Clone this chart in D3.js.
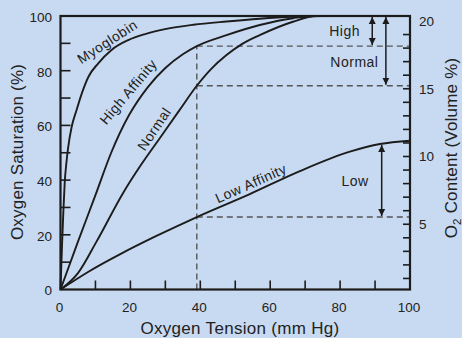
<!DOCTYPE html>
<html><head><meta charset="utf-8">
<script src="https://cdn.jsdelivr.net/npm/d3@7"></script>
<style>
html,body{margin:0;padding:0;background:#c8daf1;}
svg{display:block;font-family:"Liberation Sans",Arial,Helvetica,sans-serif;}
</style></head>
<body>
<svg id="chart" width="462" height="338"></svg>
<script>
// ---- data ----
const myoglobinPO2 = [0, 0.4, 0.8, 1.2, 1.7, 2.2, 3.2, 4.6, 6.1, 8, 10.8, 14.6, 19.4, 24.2, 29.9, 38, 47.5, 57, 66.5, 75, 100];
const myoglobinSat = [0, 15, 28, 39, 46.5, 52, 59.5, 65.6, 71.7, 77.8, 82.7, 87.6, 91.2, 93.4, 95.2, 96.8, 98, 99, 99.7, 100, 100];
const highPO2 = [0, 5, 10, 14.5, 19.5, 25, 30, 35, 39, 47.5, 57, 66.5, 72, 100];
const highSat = [0, 17.5, 34.5, 50, 63.5, 74, 81, 86, 89, 93, 96.7, 99.2, 100, 100];
const normalPO2 = [0, 5, 10.3, 18, 23, 28.5, 34, 39, 43, 47.5, 52, 57, 66.5, 73, 100];
const normalSat = [0, 6, 17.5, 35.5, 45.5, 55.5, 65.5, 74.5, 80.5, 85.7, 89.8, 93, 97.9, 100, 100];
const lowPO2 = [0, 8, 17.5, 27, 39, 54, 68.5, 82.8, 91.4, 100];
const lowSat = [0, 6.5, 13.2, 19.3, 26.5, 34.8, 43.3, 50.4, 53.2, 54.4];

const xTicks = [0, 20, 40, 60, 80, 100];
const xMinorTicks = [10, 20, 30, 40, 50, 60, 70, 80, 90];
const yTicks = [0, 20, 40, 60, 80, 100];
const yMinorTicks = [10, 20, 30, 40, 50, 60, 70, 80, 90];
const y2Ticks = [5, 10, 15, 20];
const y2MinorTicks = [1, 2, 3, 4, 5, 6, 7, 8, 9, 10, 11, 12, 13, 14, 15, 16, 17, 18, 19];

const refPO2 = 39;                       // venous tension marker
const refHighSat = 89, refNormalSat = 74.5, refLowSat = 26.5;

const curveLabels = [
  {text: "Myoglobin", po2: 13.4, sat: 90.6, angle: -33},
  {text: "High Affinity", po2: 19.4, sat: 72.3, angle: -50},
  {text: "Normal", po2: 26.8, sat: 58.7, angle: -56},
  {text: "Low Affinity", po2: 54.5, sat: 38.8, angle: -24}
];
const rangeLabels = [
  {text: "High", po2: 81.3, sat: 94.3},
  {text: "Normal", po2: 84.1, sat: 83.3},
  {text: "Low", po2: 84.3, sat: 39.7}
];
const arrows = [
  {po2: 89.2, from: 100, to: refHighSat},
  {po2: 93.1, from: 100, to: refNormalSat},
  {po2: 91.9, from: 53.2, to: refLowSat}
];

// ---- scales ----
const x = d3.scaleLinear().domain([0, 100]).range([60.5, 410]);
const y = d3.scaleLinear().domain([0, 100]).range([289.5, 16]);
const y2 = d3.scaleLinear().domain([0, 20]).range([292, 21]);

const svg = d3.select("#chart");
const ink = "#1c1c1c";

svg.append("defs").append("marker")
  .attr("id", "ah").attr("viewBox", "0 0 10 10").attr("refX", 10).attr("refY", 5)
  .attr("markerWidth", 7).attr("markerHeight", 9).attr("markerUnits", "userSpaceOnUse")
  .attr("orient", "auto-start-reverse")
  .append("path").attr("d", "M0,0L10,5L0,10Z").attr("fill", ink);

// dashed reference lines
const dash = svg.append("g").attr("stroke", "#555").attr("stroke-width", 1.4)
  .attr("stroke-dasharray", "6,4").attr("fill", "none");
dash.append("line").attr("x1", x(refPO2)).attr("x2", x(refPO2)).attr("y1", y(0)).attr("y2", y(refHighSat));
[refHighSat, refNormalSat, refLowSat].forEach(s => {
  dash.append("line").attr("x1", x(refPO2)).attr("x2", x(100)).attr("y1", y(s)).attr("y2", y(s));
});

// curves
const line = d3.line().x(d => x(d[0])).y(d => y(d[1])).curve(d3.curveMonotoneX);
const series = [
  [myoglobinPO2, myoglobinSat],
  [highPO2, highSat],
  [normalPO2, normalSat],
  [lowPO2, lowSat]
];
svg.append("g").selectAll("path").data(series).join("path")
  .attr("d", s => line(s[0].map((v, i) => [v, s[1][i]])))
  .attr("fill", "none").attr("stroke", ink).attr("stroke-width", 1.9);

// arrows
svg.append("g").selectAll("line").data(arrows).join("line")
  .attr("x1", d => x(d.po2)).attr("x2", d => x(d.po2))
  .attr("y1", d => y(d.from) + 1).attr("y2", d => y(d.to) - 1)
  .attr("stroke", ink).attr("stroke-width", 1.5)
  .attr("marker-start", "url(#ah)").attr("marker-end", "url(#ah)");

// frame
const g = svg.append("g").attr("stroke", ink).attr("fill", "none");
g.append("rect").attr("x", x(0)).attr("y", y(100)).attr("width", x(100) - x(0)).attr("height", y(0) - y(100))
  .attr("stroke-width", 2.2);

// ticks
g.selectAll(".xt").data(xMinorTicks).join("line").attr("class", "xt")
  .attr("x1", d => x(d)).attr("x2", d => x(d)).attr("y1", y(0)).attr("y2", y(0) - 9).attr("stroke-width", 1.6);
g.selectAll(".yt").data(yMinorTicks).join("line").attr("class", "yt")
  .attr("x1", x(0)).attr("x2", x(0) + 10).attr("y1", d => y(d)).attr("y2", d => y(d)).attr("stroke-width", 1.6);
g.selectAll(".y2t").data(y2MinorTicks).join("line").attr("class", "y2t")
  .attr("x1", x(100)).attr("x2", x(100) - 7).attr("y1", d => y2(d)).attr("y2", d => y2(d)).attr("stroke-width", 1.6);

// tick labels
const lab = svg.append("g").attr("fill", "#222").attr("font-size", 13.5);
lab.selectAll(".xl").data(xTicks).join("text").attr("class", "xl")
  .attr("x", d => x(d) - 1).attr("y", 311.5).attr("text-anchor", "middle").text(d => d);
lab.selectAll(".yl").data(yTicks).join("text").attr("class", "yl")
  .attr("x", 52).attr("y", d => y(d) + 5.8).attr("text-anchor", "end").text(d => d);
lab.selectAll(".y2l").data(y2Ticks).join("text").attr("class", "y2l")
  .attr("x", 419).attr("y", d => y2(d) + 4.8).attr("text-anchor", "start").text(d => d);

// axis titles
const tfs = 17;
svg.append("text").attr("x", 240).attr("y", 334).attr("text-anchor", "middle")
  .attr("font-size", tfs).attr("letter-spacing", 0.3).attr("fill", "#222").text("Oxygen Tension (mm Hg)");
svg.append("text").attr("transform", "translate(22.5,152) rotate(-90)").attr("text-anchor", "middle")
  .attr("font-size", tfs).attr("letter-spacing", 0.2).attr("fill", "#222").text("Oxygen Saturation (%)");
const rt = svg.append("text").attr("transform", "translate(457,148) rotate(-90)").attr("text-anchor", "middle")
  .attr("font-size", tfs).attr("letter-spacing", 0.2).attr("fill", "#222");
rt.append("tspan").text("O");
rt.append("tspan").attr("font-size", 11.5).attr("dy", 4).text("2");
rt.append("tspan").attr("dy", -4).text(" Content (Volume %)");

// curve labels
svg.append("g").selectAll("text").data(curveLabels).join("text")
  .attr("transform", d => `translate(${x(d.po2)},${y(d.sat)}) rotate(${d.angle})`)
  .attr("text-anchor", "middle").attr("dy", "0.35em").attr("letter-spacing", 0.5)
  .attr("font-size", 14).attr("fill", "#222").text(d => d.text);
svg.append("g").selectAll("text").data(rangeLabels).join("text")
  .attr("x", d => x(d.po2)).attr("y", d => y(d.sat)).attr("dy", "0.35em").attr("letter-spacing", 0.5)
  .attr("text-anchor", "middle").attr("font-size", 14).attr("fill", "#222").text(d => d.text);
</script>
</body></html>
